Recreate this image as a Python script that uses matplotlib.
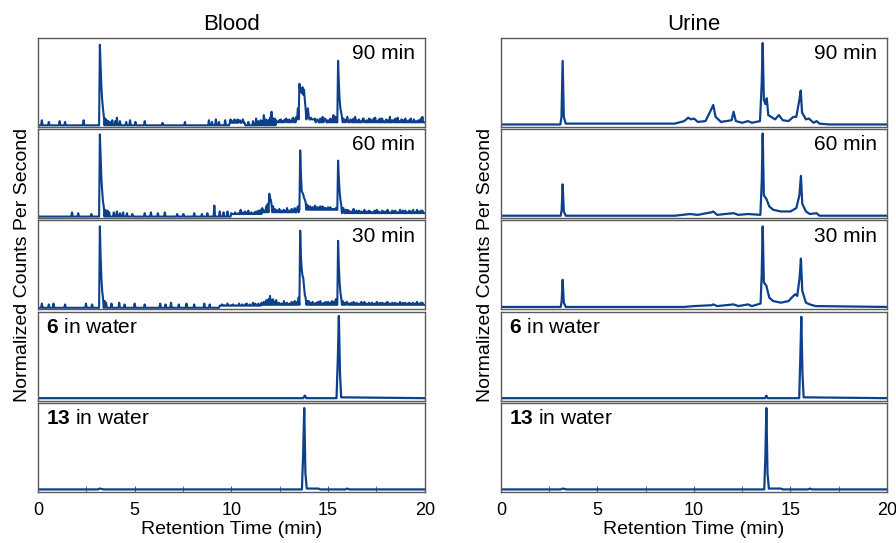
import numpy as np
import matplotlib
matplotlib.use('Agg')
import matplotlib.pyplot as plt
from matplotlib.ticker import MultipleLocator

plt.rcParams['font.family'] = ['Liberation Sans', 'DejaVu Sans']
plt.rcParams['mathtext.fontset'] = 'custom'
plt.rcParams['mathtext.rm'] = 'Liberation Sans'
plt.rcParams['mathtext.bf'] = 'Liberation Sans:bold'

LINE = '#0c3f8c'
FRAME = '#5a5a5a'

# ---- data (normalized intensity) ----
panel_labels = ['90 min', '60 min', '30 min', r'$\mathbf{6}$ in water', r'$\mathbf{13}$ in water']

# blood: spikes (time, height) on a noisy baseline + raised noise floors (start, end, level)
blood_90_spikes = [(0.2, 0.06), (0.55, 0.04), (1.1, 0.05), (1.4, 0.04), (2.35, 0.06),
                   (3.2, 0.95), (3.24, 0.7), (3.28, 0.45), (3.32, 0.3), (3.36, 0.2), (3.4, 0.12),
                   (3.48, 0.08), (3.56, 0.06), (3.64, 0.05), (3.72, 0.04), (3.85, 0.06), (4.0, 0.05),
                   (4.1, 0.09), (4.25, 0.05), (4.55, 0.04), (4.75, 0.06), (5.05, 0.04), (5.5, 0.05),
                   (6.45, 0.03), (7.6, 0.04), (8.85, 0.06), (9.0, 0.04), (9.2, 0.07), (9.35, 0.04),
                   (9.7, 0.06), (9.95, 0.07), (10.05, 0.05), (10.15, 0.07), (10.25, 0.05), (10.3, 0.07),
                   (10.4, 0.05), (10.45, 0.06), (10.55, 0.05), (10.6, 0.07), (10.9, 0.04), (11.1, 0.05),
                   (11.3, 0.08), (11.4, 0.05), (11.5, 0.06), (11.6, 0.05), (11.7, 0.12), (11.8, 0.07),
                   (11.9, 0.06), (12.0, 0.09), (12.1, 0.16), (12.18, 0.08), (12.25, 0.08), (12.32, 0.06),
                   (12.4, 0.04), (12.48, 0.06), (12.55, 0.07), (12.62, 0.05), (12.7, 0.06), (12.78, 0.07),
                   (12.85, 0.08), (12.92, 0.06), (13.0, 0.07), (13.08, 0.05), (13.15, 0.08), (13.2, 0.09),
                   (13.28, 0.07), (13.35, 0.1), (13.42, 0.2), (13.5, 0.49), (13.55, 0.4), (13.6, 0.43),
                   (13.64, 0.38), (13.68, 0.45), (13.72, 0.36), (13.76, 0.42), (13.8, 0.3), (13.85, 0.2),
                   (13.9, 0.15), (13.95, 0.2), (14.0, 0.1), (14.05, 0.07), (14.12, 0.09), (14.2, 0.06),
                   (14.3, 0.08), (14.38, 0.06), (14.45, 0.07), (14.5, 0.06), (14.6, 0.08), (14.7, 0.1),
                   (14.78, 0.06), (14.85, 0.08), (14.9, 0.07), (15.0, 0.06), (15.1, 0.08), (15.2, 0.07),
                   (15.3, 0.12), (15.4, 0.1), (15.52, 0.76), (15.56, 0.5), (15.6, 0.3), (15.64, 0.2),
                   (15.68, 0.15), (15.72, 0.1), (15.8, 0.08), (15.88, 0.06), (15.95, 0.07), (16.0, 0.1),
                   (16.08, 0.05), (16.15, 0.07), (16.2, 0.06), (16.3, 0.08), (16.4, 0.1), (16.5, 0.06),
                   (16.6, 0.07), (16.7, 0.05), (16.78, 0.08), (16.85, 0.08), (16.92, 0.05), (17.0, 0.06),
                   (17.1, 0.08), (17.2, 0.07), (17.3, 0.05), (17.38, 0.08), (17.45, 0.09), (17.52, 0.05),
                   (17.6, 0.06), (17.7, 0.08), (17.8, 0.08), (17.9, 0.05), (18.0, 0.07), (18.1, 0.06),
                   (18.2, 0.1), (18.3, 0.06), (18.4, 0.06), (18.5, 0.08), (18.6, 0.09), (18.7, 0.05),
                   (18.8, 0.07), (18.9, 0.06), (19.0, 0.08), (19.1, 0.05), (19.2, 0.06), (19.3, 0.08),
                   (19.45, 0.07), (19.55, 0.05), (19.7, 0.06), (19.8, 0.08), (19.9, 0.1)]
blood_90_floor = [(9.9, 10.7, 0.03), (12.3, 20.0, 0.035), (13.4, 14.3, 0.07)]

blood_60_spikes = [(1.75, 0.05), (2.08, 0.04), (2.77, 0.03),
                   (3.2, 0.97), (3.24, 0.7), (3.28, 0.45), (3.32, 0.3), (3.36, 0.18), (3.4, 0.12),
                   (3.48, 0.08), (3.6, 0.07), (3.7, 0.05), (3.9, 0.05), (4.1, 0.06), (4.25, 0.04),
                   (4.4, 0.05), (4.6, 0.04), (4.9, 0.03), (5.5, 0.04), (5.85, 0.05), (6.2, 0.04),
                   (6.55, 0.05), (7.2, 0.03), (7.5, 0.03), (8.1, 0.04), (8.5, 0.03), (8.75, 0.04),
                   (9.1, 0.13), (9.4, 0.06), (9.6, 0.05), (9.8, 0.06), (10.0, 0.04), (10.2, 0.05),
                   (10.35, 0.04), (10.5, 0.08), (10.6, 0.05), (10.7, 0.06), (10.8, 0.04), (10.9, 0.07),
                   (11.05, 0.05), (11.2, 0.05), (11.3, 0.06), (11.4, 0.07), (11.5, 0.08), (11.6, 0.1),
                   (11.7, 0.07), (11.8, 0.12), (11.88, 0.15), (11.95, 0.27), (12.0, 0.22), (12.05, 0.2),
                   (12.1, 0.14), (12.15, 0.12), (12.22, 0.09), (12.3, 0.08), (12.4, 0.07), (12.5, 0.09),
                   (12.6, 0.07), (12.7, 0.08), (12.8, 0.06), (12.9, 0.1), (13.0, 0.07), (13.1, 0.09),
                   (13.2, 0.08), (13.3, 0.1), (13.4, 0.09), (13.45, 0.12), (13.57, 0.78), (13.61, 0.5),
                   (13.65, 0.3), (13.69, 0.28), (13.73, 0.26), (13.77, 0.22), (13.8, 0.2), (13.85, 0.17),
                   (13.9, 0.14), (14.0, 0.12), (14.1, 0.12), (14.2, 0.11), (14.3, 0.13), (14.4, 0.11),
                   (14.5, 0.11), (14.6, 0.12), (14.7, 0.12), (14.8, 0.1), (14.9, 0.1), (15.0, 0.11),
                   (15.1, 0.11), (15.2, 0.09), (15.3, 0.09), (15.4, 0.1), (15.52, 0.66), (15.56, 0.45),
                   (15.6, 0.3), (15.64, 0.2), (15.68, 0.14), (15.75, 0.1), (15.8, 0.1), (15.9, 0.08),
                   (16.0, 0.08), (16.1, 0.07), (16.2, 0.06), (16.3, 0.09), (16.4, 0.06), (16.5, 0.07),
                   (16.6, 0.07), (16.7, 0.06), (16.8, 0.05), (16.9, 0.08), (17.0, 0.06), (17.1, 0.07),
                   (17.2, 0.06), (17.3, 0.05), (17.4, 0.07), (17.5, 0.08), (17.6, 0.06), (17.7, 0.05),
                   (17.8, 0.07), (17.9, 0.06), (18.0, 0.06), (18.1, 0.08), (18.2, 0.05), (18.3, 0.07),
                   (18.4, 0.06), (18.5, 0.07), (18.6, 0.05), (18.7, 0.08), (18.8, 0.06), (18.9, 0.07),
                   (19.0, 0.07), (19.1, 0.05), (19.2, 0.07), (19.3, 0.06), (19.4, 0.08), (19.5, 0.05),
                   (19.6, 0.08), (19.7, 0.06), (19.8, 0.07), (19.9, 0.07)]
blood_60_floor = [(10.0, 11.6, 0.03), (11.6, 13.5, 0.05), (13.5, 15.5, 0.08), (15.5, 20.0, 0.04)]

blood_30_spikes = [(0.2, 0.05), (0.55, 0.04), (0.8, 0.05), (1.4, 0.04), (2.5, 0.05), (2.8, 0.04),
                   (3.2, 0.96), (3.24, 0.6), (3.28, 0.35), (3.32, 0.2), (3.36, 0.12), (3.42, 0.08),
                   (3.5, 0.06), (3.8, 0.05), (4.2, 0.06), (4.5, 0.04), (5.0, 0.05), (5.5, 0.04),
                   (6.3, 0.05), (6.6, 0.04), (6.9, 0.06), (7.3, 0.04), (7.7, 0.05), (8.1, 0.04),
                   (8.6, 0.05), (8.9, 0.04), (9.5, 0.04), (9.65, 0.03), (9.8, 0.05), (9.95, 0.03),
                   (10.1, 0.04), (10.25, 0.03), (10.4, 0.05), (10.55, 0.04), (10.7, 0.04), (10.8, 0.05),
                   (10.95, 0.04), (11.1, 0.06), (11.25, 0.05), (11.4, 0.05), (11.55, 0.06), (11.7, 0.07),
                   (11.8, 0.09), (11.9, 0.1), (12.0, 0.14), (12.08, 0.09), (12.15, 0.1), (12.22, 0.07),
                   (12.3, 0.09), (12.4, 0.05), (12.5, 0.06), (12.6, 0.05), (12.7, 0.08), (12.8, 0.05),
                   (12.9, 0.06), (13.0, 0.05), (13.1, 0.07), (13.2, 0.06), (13.3, 0.08), (13.4, 0.07),
                   (13.47, 0.12), (13.55, 0.91), (13.59, 0.6), (13.63, 0.45), (13.67, 0.38), (13.71, 0.35),
                   (13.75, 0.25), (13.8, 0.15), (13.85, 0.12), (13.9, 0.08), (14.0, 0.08), (14.1, 0.06),
                   (14.2, 0.07), (14.3, 0.05), (14.4, 0.06), (14.5, 0.07), (14.6, 0.08), (14.7, 0.05),
                   (14.8, 0.06), (14.9, 0.07), (15.0, 0.07), (15.1, 0.06), (15.2, 0.08), (15.3, 0.07),
                   (15.4, 0.1), (15.52, 0.79), (15.56, 0.5), (15.6, 0.3), (15.64, 0.18), (15.68, 0.12),
                   (15.75, 0.08), (15.85, 0.06), (15.95, 0.07), (16.0, 0.06), (16.1, 0.05), (16.2, 0.06),
                   (16.3, 0.07), (16.4, 0.05), (16.5, 0.06), (16.6, 0.05), (16.7, 0.07), (16.8, 0.05),
                   (16.9, 0.07), (17.0, 0.05), (17.1, 0.06), (17.2, 0.05), (17.3, 0.06), (17.4, 0.05),
                   (17.5, 0.07), (17.6, 0.05), (17.7, 0.06), (17.8, 0.06), (17.9, 0.05), (18.0, 0.06),
                   (18.1, 0.07), (18.2, 0.05), (18.3, 0.06), (18.4, 0.05), (18.5, 0.06), (18.6, 0.05),
                   (18.7, 0.07), (18.8, 0.05), (18.9, 0.06), (19.0, 0.06), (19.1, 0.05), (19.2, 0.06),
                   (19.3, 0.05), (19.4, 0.06), (19.5, 0.05), (19.6, 0.07), (19.7, 0.05), (19.8, 0.06),
                   (19.9, 0.06)]
blood_30_floor = [(9.4, 11.6, 0.025), (11.6, 13.5, 0.035), (13.5, 20.0, 0.035)]

# water standards and urine: (time, intensity) points along the trace
blood_6_pts = [(0, 0.01), (13.72, 0.01), (13.8, 0.04), (13.88, 0.01), (15.44, 0.01), (15.51, 0.5),
               (15.56, 0.98), (15.62, 0.3), (15.68, 0.02), (20, 0.01)]
blood_13_pts = [(0, 0.01), (3.1, 0.01), (3.2, 0.02), (3.4, 0.01), (13.65, 0.01), (13.71, 0.4),
                (13.77, 0.97), (13.83, 0.2), (13.9, 0.02), (14.5, 0.02), (14.6, 0.01),
                (15.9, 0.01), (16.0, 0.02), (16.1, 0.01), (20, 0.01)]

urine_90_pts = [(0, 0.01), (3.08, 0.01), (3.14, 0.1), (3.2, 0.76), (3.26, 0.1), (3.36, 0.02),
                (9.0, 0.02), (9.5, 0.05), (9.7, 0.09), (9.85, 0.07), (10.0, 0.08), (10.2, 0.04),
                (10.6, 0.05), (10.92, 0.2), (11.0, 0.24), (11.12, 0.1), (11.4, 0.04), (11.95, 0.06),
                (12.05, 0.16), (12.17, 0.05), (12.5, 0.03), (12.8, 0.05), (13.0, 0.03), (13.42, 0.05),
                (13.51, 0.5), (13.56, 0.97), (13.62, 0.3), (13.7, 0.25), (13.77, 0.32), (13.85, 0.12),
                (14.0, 0.1), (14.2, 0.07), (14.4, 0.12), (14.6, 0.06), (14.9, 0.05), (15.15, 0.1),
                (15.3, 0.1), (15.46, 0.3), (15.53, 0.41), (15.6, 0.15), (15.8, 0.07), (15.95, 0.08),
                (16.2, 0.03), (16.35, 0.05), (16.5, 0.02), (17.0, 0.01), (20, 0.01)]
urine_60_pts = [(0, 0.01), (3.1, 0.01), (3.15, 0.08), (3.2, 0.38), (3.26, 0.06), (3.36, 0.01),
                (9.0, 0.01), (9.8, 0.03), (10.2, 0.02), (10.9, 0.05), (11.0, 0.06), (11.2, 0.02),
                (12.05, 0.04), (12.3, 0.02), (12.8, 0.03), (13.44, 0.02), (13.51, 0.4), (13.56, 0.98),
                (13.62, 0.25), (13.75, 0.21), (13.9, 0.12), (14.1, 0.08), (14.5, 0.06), (15.0, 0.06),
                (15.3, 0.1), (15.46, 0.25), (15.54, 0.48), (15.61, 0.15), (15.8, 0.06), (16.0, 0.03),
                (16.35, 0.04), (16.5, 0.01), (20, 0.01)]
urine_30_pts = [(0, 0.01), (3.1, 0.01), (3.15, 0.08), (3.2, 0.33), (3.26, 0.06), (3.36, 0.01),
                (9.5, 0.01), (10.0, 0.02), (10.9, 0.03), (11.0, 0.04), (11.2, 0.02), (12.05, 0.04),
                (12.3, 0.02), (12.8, 0.04), (13.0, 0.02), (13.45, 0.05), (13.51, 0.4), (13.56, 0.96),
                (13.62, 0.3), (13.75, 0.26), (13.9, 0.12), (14.1, 0.08), (14.5, 0.06), (14.9, 0.08),
                (15.15, 0.14), (15.25, 0.16), (15.35, 0.14), (15.47, 0.35), (15.54, 0.58),
                (15.61, 0.2), (15.8, 0.06), (16.0, 0.04), (16.3, 0.02), (20, 0.01)]
urine_6_pts = [(0, 0.01), (13.68, 0.01), (13.75, 0.04), (13.82, 0.01), (15.45, 0.01), (15.51, 0.5),
               (15.56, 0.97), (15.62, 0.3), (15.68, 0.02), (20, 0.01)]
urine_13_pts = [(0, 0.01), (3.1, 0.01), (3.2, 0.02), (3.4, 0.01), (13.64, 0.01), (13.7, 0.4),
                (13.75, 0.97), (13.81, 0.2), (13.88, 0.02), (14.5, 0.02), (14.6, 0.01),
                (15.9, 0.01), (16.0, 0.02), (16.1, 0.01), (20, 0.01)]

x_ticks = [0, 5, 10, 15, 20]


def spikes_to_trace(spikes, floors, step=0.04):
    t = np.arange(0, 20 + step, step)
    y = np.zeros_like(t)
    for a, b, lev in floors:
        y[(t >= a) & (t <= b)] = lev
    for ts, h in spikes:
        i = int(round(ts / step))
        y[i] = max(y[i], h)
    return t, y


fig = plt.figure(figsize=(8.96, 5.43), dpi=100)
gs_kw = dict(top=0.930, bottom=0.094, hspace=0.025)
gl = fig.add_gridspec(5, 1, left=0.0424, right=0.474, **gs_kw)
gr = fig.add_gridspec(5, 1, left=0.559, right=0.990, **gs_kw)

blood = [('spk', blood_90_spikes, blood_90_floor), ('spk', blood_60_spikes, blood_60_floor),
         ('spk', blood_30_spikes, blood_30_floor), ('pts', blood_6_pts), ('pts', blood_13_pts)]
urine = [('pts', urine_90_pts), ('pts', urine_60_pts), ('pts', urine_30_pts),
         ('pts', urine_6_pts), ('pts', urine_13_pts)]

for gs, traces, title in [(gl, blood, 'Blood'), (gr, urine, 'Urine')]:
    axes = []
    for i, tr in enumerate(traces):
        ax = fig.add_subplot(gs[i])
        axes.append(ax)
        if tr[0] == 'spk':
            t, y = spikes_to_trace(tr[1], tr[2])
            ax.plot(t, y, color=LINE, lw=1.5)
        else:
            t = [p[0] for p in tr[1]]
            y = [p[1] for p in tr[1]]
            ax.plot(t, y, color=LINE, lw=1.6)
        ax.set_xlim(0, 20)
        ax.set_ylim(-0.02, 1.03)
        ax.set_yticks([])
        for s in ax.spines.values():
            s.set_color(FRAME)
            s.set_linewidth(1.0)
        if i < 3:
            ax.text(0.975, 0.93, panel_labels[i], transform=ax.transAxes, ha='right', va='top', fontsize=15)
        else:
            ax.text(0.02, 0.93, panel_labels[i], transform=ax.transAxes, ha='left', va='top', fontsize=15)
        if i < 4:
            ax.set_xticks([])
        else:
            ax.set_xticks(x_ticks)
            ax.xaxis.set_minor_locator(MultipleLocator(2.5))
            ax.tick_params(axis='x', which='both', direction='in', length=4, color=FRAME,
                           labelsize=13, pad=7)
            ax.set_xlabel('Retention Time (min)', fontsize=14, labelpad=2)
    axes[0].set_title(title, fontsize=16, pad=6)
    pos_top = axes[0].get_position()
    pos_bot = axes[-1].get_position()
    ymid = (pos_top.y1 + pos_bot.y0) / 2
    fig.text(pos_top.x0 - 0.008, ymid, 'Normalized Counts Per Second', rotation=90,
             ha='right', va='center', fontsize=14)

fig.savefig('out.png', dpi=100)
